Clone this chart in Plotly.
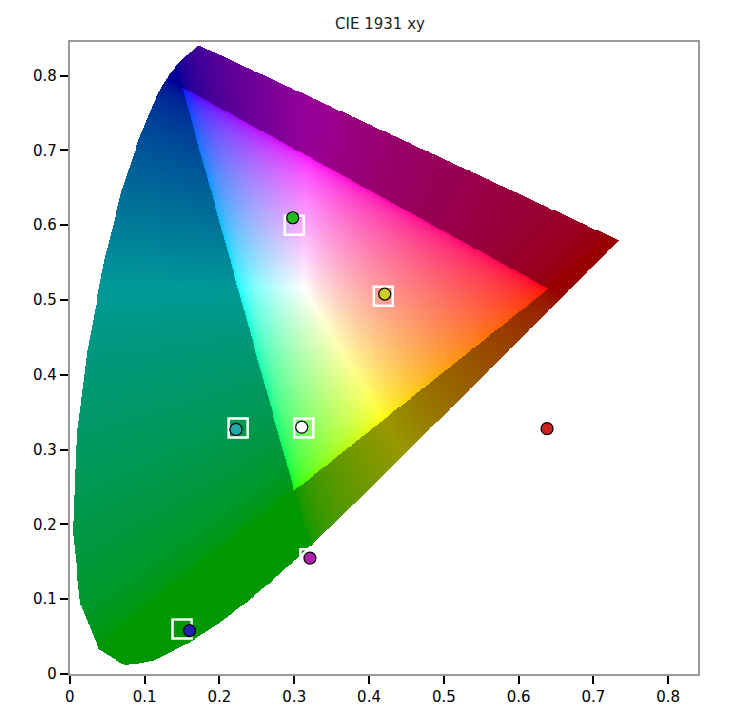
import base64
import struct
import zlib

import numpy as np
import plotly.graph_objects as go

# CIE 1931 2-degree spectral locus (x, y), 380-700 nm
locus_x = [0.1741, 0.1740, 0.1738, 0.1736, 0.1733, 0.1730, 0.1726, 0.1721, 0.1714, 0.1703,
           0.1689, 0.1669, 0.1644, 0.1611, 0.1566, 0.1510, 0.1440, 0.1355, 0.1241, 0.1096,
           0.0913, 0.0687, 0.0454, 0.0235, 0.0082, 0.0039, 0.0139, 0.0389, 0.0743, 0.1142,
           0.1547, 0.1929, 0.2296, 0.2658, 0.3016, 0.3373, 0.3731, 0.4087, 0.4441, 0.4788,
           0.5125, 0.5448, 0.5752, 0.6029, 0.6270, 0.6482, 0.6658, 0.6801, 0.6915, 0.7006,
           0.7079, 0.7140, 0.7190, 0.7230, 0.7260, 0.7283, 0.7300, 0.7311, 0.7320, 0.7347]
locus_y = [0.0050, 0.0050, 0.0049, 0.0049, 0.0048, 0.0048, 0.0048, 0.0048, 0.0051, 0.0058,
           0.0069, 0.0086, 0.0109, 0.0138, 0.0177, 0.0227, 0.0297, 0.0399, 0.0578, 0.0868,
           0.1327, 0.2007, 0.2950, 0.4127, 0.5384, 0.6548, 0.7502, 0.8120, 0.8338, 0.8262,
           0.8059, 0.7816, 0.7543, 0.7243, 0.6923, 0.6589, 0.6245, 0.5896, 0.5547, 0.5202,
           0.4866, 0.4544, 0.4242, 0.3965, 0.3725, 0.3514, 0.3340, 0.3197, 0.3083, 0.2993,
           0.2920, 0.2859, 0.2809, 0.2770, 0.2740, 0.2717, 0.2700, 0.2689, 0.2680, 0.2653]

# target points (squares) and measured points (circles)
target_x = [0.300, 0.419, 0.640, 0.321, 0.150, 0.225, 0.3127]
target_y = [0.600, 0.505, 0.330, 0.154, 0.060, 0.329, 0.329]
meas_x = [0.298, 0.421, 0.638, 0.321, 0.160, 0.222, 0.310]
meas_y = [0.610, 0.508, 0.328, 0.155, 0.058, 0.327, 0.330]
meas_colors = ["#22bb22", "#cccc22", "#cc2222", "#aa22aa", "#2222aa", "#22aaaa", "#ffffff"]

X_MAX, Y_MAX = 0.84, 0.845
NX, NY = 660, 664


def inside(px, py, vx, vy):
    vx, vy = np.asarray(vx), np.asarray(vy)
    res = np.zeros(px.shape, bool)
    n = len(vx)
    for i in range(n):
        j = i - 1
        xi, yi, xj, yj = vx[i], vy[i], vx[j], vy[j]
        cond = (yi > py) != (yj > py)
        xint = (xj - xi) * (py - yi) / (yj - yi + 1e-12) + xi
        res ^= cond & (px < xint)
    return res


def png_uri(rgba):
    h, w, _ = rgba.shape
    raw = b"".join(b"\x00" + rgba[r].tobytes() for r in range(h))
    def chunk(t, d):
        c = struct.pack(">I", len(d)) + t + d
        return c + struct.pack(">I", zlib.crc32(t + d) & 0xffffffff)
    png = (b"\x89PNG\r\n\x1a\n" + chunk(b"IHDR", struct.pack(">IIBBBBB", w, h, 8, 6, 0, 0, 0))
           + chunk(b"IDAT", zlib.compress(raw, 9)) + chunk(b"IEND", b""))
    return "data:image/png;base64," + base64.b64encode(png).decode()


# render the chromaticity fill, row 0 = top
dx, dy = X_MAX / NX, Y_MAX / NY
gx, gy = np.meshgrid((np.arange(NX) + 0.5) * dx, Y_MAX - (np.arange(NY) + 0.5) * dy)
mask = inside(gx, gy, locus_x, locus_y)
gys = np.maximum(gy, 1e-4)
X, Y, Z = gx / gys, np.ones_like(gx), (1 - gx - gy) / gys
M = np.array([[3.2406, -1.5372, -0.4986], [-0.9689, 1.8758, 0.0415], [0.0557, -0.2040, 1.0570]])
rgb = np.einsum("ij,jhw->hwi", M, np.stack([X, Y, Z]))
in_gamut = (rgb >= 0).all(axis=2)
rgb = np.clip(rgb, 0, None)
rgb = rgb / np.maximum(rgb.max(axis=2, keepdims=True), 1e-9)
rgb = np.where(rgb <= 0.0031308, 12.92 * rgb, 1.055 * rgb ** (1 / 2.4) - 0.055)
rgb = np.where(in_gamut[..., None], rgb, rgb * 0.6)
img = np.zeros((NY, NX, 4), np.uint8)
img[..., :3] = (np.clip(rgb, 0, 1) * 255).astype(np.uint8)
img[..., 3] = np.where(mask, 255, 0)

fig = go.Figure()
fig.add_trace(go.Image(source=png_uri(img), x0=dx / 2, dx=dx, y0=Y_MAX - dy / 2, dy=-dy,
                       hoverinfo="skip"))
fig.add_trace(go.Scatter(x=target_x, y=target_y, mode="markers",
                         marker=dict(symbol="square-open", size=19, color="white",
                                     line=dict(width=2.5, color="white"))))
fig.add_trace(go.Scatter(x=meas_x, y=meas_y, mode="markers",
                         marker=dict(symbol="circle", size=12, color=meas_colors,
                                     line=dict(width=1.2, color="black"))))

axis = dict(showgrid=False, zeroline=False, ticks="outside", ticklen=8, tickwidth=2,
            tickcolor="black", tickfont=dict(family="DejaVu Sans", size=15, color="black"),
            showline=True, linecolor="#999999", linewidth=2, mirror=True, dtick=0.1)
fig.update_layout(
    width=744, height=718,
    margin=dict(l=46, r=38, t=34, b=52),
    paper_bgcolor="white", plot_bgcolor="white",
    showlegend=False,
    title=dict(text="CIE 1931 xy", x=0.5, y=0.985, xanchor="center",
               font=dict(family="DejaVu Sans", size=15, color="#222222")),
    xaxis=dict(axis, range=[0, X_MAX], tickformat="~g"),
    yaxis=dict(axis, range=[0, Y_MAX], tickformat="~g", autorange=False),
)
fig.write_html("out.html")
